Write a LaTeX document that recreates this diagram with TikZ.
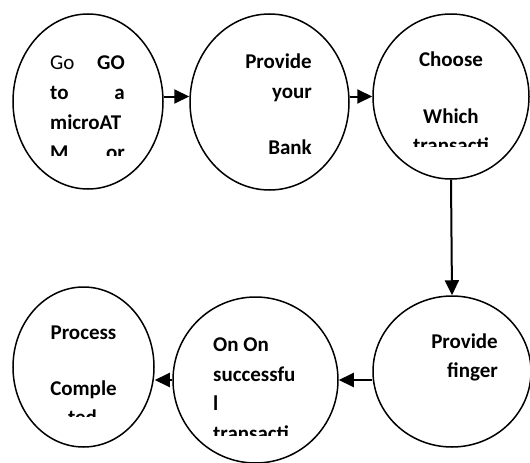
\documentclass[tikz,border=0pt]{standalone}
\usepackage{fontspec}
\setmainfont{Carlito}
\usetikzlibrary{shapes.geometric,arrows.meta}
\begin{document}
\begin{tikzpicture}[x=1pt,y=-1pt,
  bub/.style={draw, ellipse, line width=1.5pt, inner sep=0pt},
  arr/.style={line width=2pt, -{Triangle[length=15pt,width=14pt]}},
  txt/.style={font=\bfseries\fontsize{21}{25}\selectfont, inner sep=0pt},
  rtxt/.style={font=\fontsize{21}{25}\selectfont, inner sep=0pt}]
\useasboundingbox (0,0) rectangle (530,463);
% bubbles
\node[bub, minimum width=150pt, minimum height=175pt] (e1) at (88,101.5) {};
\node[bub, minimum width=159pt, minimum height=176pt] (e2) at (269.5,102) {};
\node[bub, minimum width=156pt, minimum height=165pt] (e3) at (451,96.5) {};
\node[bub, minimum width=158pt, minimum height=151pt] (e4) at (452,371.5) {};
\node[bub, minimum width=165pt, minimum height=166pt] (e5) at (255.5,380) {};
\node[bub, minimum width=141pt, minimum height=160pt] (e6) at (83.5,367) {};
% connectors
\draw[arr] (e1.east |- e3.west) -- (e2.west |- e3.west);
\draw[arr] (e2.east |- e3.west) -- (e3.west);
\draw[arr] (e3.south) -- (e4.north);
\draw[arr] (e4.west |- e5.center) -- (e5.east);
\draw[arr] (e5.west) -- (e6.east |- e5.center);
% texts of bubble 1
\begin{scope}
\clip (40,30) rectangle (140,155);
\node[rtxt, anchor=base west] (t1a) at (50,69) {Go};
\node[txt, anchor=base east] (t1b) at (125,69) {GO};
\node[txt, anchor=base west] (t1c) at (50,99.5) {to};
\node[txt, anchor=base east] (t1d) at (125,99.5) {a};
\node[txt, anchor=base west] (t1e) at (50,129.5) {microAT};
\node[txt, anchor=base west] (t1f) at (50,159) {M};
\node[txt, anchor=base east] (t1g) at (125,159) {or};
\end{scope}
% texts of bubble 2
\node[txt, anchor=base east] (t2a) at (312,68) {Provide};
\node[txt, anchor=base east] (t2b) at (312,98) {your};
\node[txt, anchor=base east] (t2c) at (312,154) {Bank};
% texts of bubble 3
\node[txt, anchor=base] (t3a) at (451,66) {Choose};
\node[txt, anchor=base] (t3b) at (451,123) {Which};
\begin{scope}
\clip (390,100) rectangle (510,146.5);
\node[txt, anchor=base] (t3c) at (451,152) {transacti};
\end{scope}
% texts of bubble 4
\node[txt, anchor=base east] (t4a) at (498,348) {Provide};
\node[txt, anchor=base east] (t4b) at (498,377) {finger};
% texts of bubble 5
\node[txt, anchor=base west] (t5a) at (213,351.5) {On On};
\node[txt, anchor=base west] (t5b) at (213,381) {successfu};
\node[txt, anchor=base west] (t5c) at (213,410.5) {l};
\begin{scope}
\clip (200,400) rectangle (320,435);
\node[txt, anchor=base west] (t5d) at (213,440) {transacti};
\end{scope}
% texts of bubble 6
\node[txt, anchor=base] (t6a) at (83.5,339) {Process};
\node[txt, anchor=base] (t6b) at (83.5,395) {Comple};
\begin{scope}
\clip (30,400) rectangle (140,416.5);
\node[txt, anchor=base] (t6c) at (82.5,424) {ted};
\end{scope}
\end{tikzpicture}
\end{document}
